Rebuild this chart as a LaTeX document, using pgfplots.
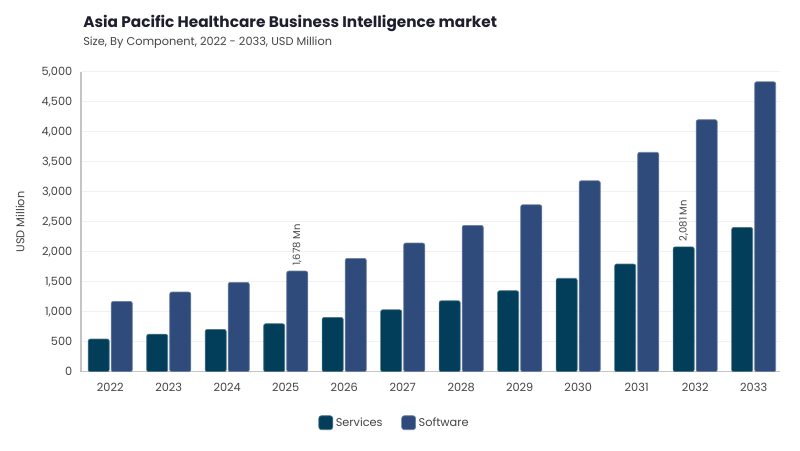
\documentclass[border=0pt]{standalone}
\usepackage{pgfplots}
\pgfplotsset{compat=1.18}
\usepackage{fontspec}
\setmainfont{Poppins}
\definecolor{services}{HTML}{023E5A}
\definecolor{software}{HTML}{2F4B7C}
\definecolor{gridc}{HTML}{F1F1F1}
\definecolor{axisc}{HTML}{C4C4C4}
\definecolor{tickc}{HTML}{444444}
\definecolor{titlec}{HTML}{1E1E2D}
\begin{document}
\begin{tikzpicture}
\path[use as bounding box] (0,0) rectangle (600pt,-337.5pt);
% title and subtitle
\node[anchor=base west, inner sep=0, text=titlec,
  font=\bfseries\fontsize{11.5}{13}\selectfont] at (62.25pt,-20.8pt)
  {Asia Pacific Healthcare Business Intelligence market};
\node[anchor=base west, inner sep=0, text=tickc,
  font=\fontsize{8.5}{10}\selectfont] at (62.25pt,-33.75pt)
  {Size, By Component, 2022 - 2033, USD Million};
\node[rotate=90, inner sep=0, text=tickc, font=\fontsize{8.5}{10}\selectfont]
  at (15pt,-166.5pt) {USD Million};
\begin{axis}[
    at={(60.75pt,-278.8pt)}, anchor=south west,
    scale only axis, width=524.25pt, height=225pt,
    xmin=-0.5, xmax=11.45, ymin=0, ymax=5000,
    ytick={0,500,...,5000},
    xtick={0,...,11},
    xticklabels={2022,2023,2024,2025,2026,2027,2028,2029,2030,2031,2032,2033},
    axis lines*=left,
    axis line style={draw=axisc, line width=0.8pt},
    ymajorgrids=true,
    grid style={draw=gridc, line width=0.6pt},
    tick style={draw=none},
    major tick length=0pt,
    ticklabel style={text=tickc, font=\fontsize{8.5}{10}\selectfont},
    xticklabel style={yshift=-5pt},
    yticklabel style={xshift=-3pt},
    /pgf/number format/.cd, 1000 sep={,}, assume math mode=true, /pgfplots/.cd,
    ybar=1.5pt, bar width=0.36,
    legend style={at={(0.449,-0.171)}, anchor=center, draw=none,
      legend columns=2, font=\fontsize{8.5}{10}\selectfont, text=tickc,
      /tikz/every even column/.append style={column sep=12pt}},
  ]
  % Services
  \addplot[fill=services, draw=services!70!white, line width=0.5pt, rounded corners=1.5pt,
    legend image code/.code={\draw[fill=services, draw=services!70!white, rounded corners=2pt] (0pt,-5pt) rectangle (10.5pt,5.5pt);}]
  coordinates {(0,545)(1,625)(2,705)(3,800)(4,905)(5,1033)(6,1183)(7,1350)(8,1557)(9,1795)(10,2081)(11,2405)};
  \addlegendentry{Services}
  % Software
  \addplot[fill=software, draw=software!70!white, line width=0.5pt, rounded corners=1.5pt,
    legend image code/.code={\draw[fill=software, draw=software!70!white, rounded corners=2pt] (0pt,-5pt) rectangle (10.5pt,5.5pt);}]
  coordinates {(0,1172)(1,1328)(2,1490)(3,1678)(4,1890)(5,2145)(6,2440)(7,2783)(8,3183)(9,3657)(10,4200)(11,4833)};
  \addlegendentry{Software}
  \node[rotate=90, anchor=west, inner sep=0, text=tickc, font=\fontsize{7.5}{9}\selectfont]
    at (axis cs:3.197,1678) [yshift=0pt, xshift=0pt] {\hspace{4pt}1,678 Mn};
  \node[rotate=90, anchor=west, inner sep=0, text=tickc, font=\fontsize{7.5}{9}\selectfont]
    at (axis cs:9.803,2081) {\hspace{4pt}2,081 Mn};
\end{axis}
\end{tikzpicture}
\end{document}
